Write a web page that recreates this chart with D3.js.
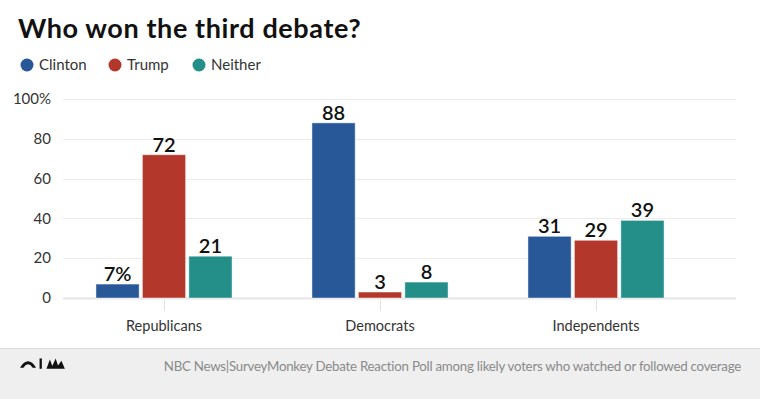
<!DOCTYPE html>
<html>
<head>
<meta charset="utf-8">
<script src="https://cdn.jsdelivr.net/npm/d3@7"></script>
<style>
  body { margin: 0; background: #fff; }
  svg text { font-family: Lato, "Open Sans", sans-serif; }
</style>
</head>
<body>
<div id="chart"></div>
<script>
const groups = ['Republicans', 'Democrats', 'Independents'];
const seriesNames = ['Clinton', 'Trump', 'Neither'];
const clinton = [7, 88, 31];
const trump = [72, 3, 29];
const neither = [21, 8, 39];
const yTicks = [0, 20, 40, 60, 80, 100];
const colors = ['#285898', '#b3372b', '#238f88'];

const width = 760, height = 399;
const svg = d3.select('#chart').append('svg')
  .attr('width', width)
  .attr('height', height);

// title + legend
svg.append('text')
  .attr('x', 18).attr('y', 38)
  .attr('font-size', 27).attr('font-weight', 700)
  .attr('letter-spacing', 0.6)
  .attr('fill', '#111')
  .text('Who won the third debate?');

const legendX = [27, 115, 199];
const legend = svg.selectAll('.legend')
  .data(seriesNames)
  .enter().append('g')
  .attr('transform', (d, i) => 'translate(' + legendX[i] + ',65)');
legend.append('circle').attr('r', 6.5).attr('fill', (d, i) => colors[i]);
legend.append('text')
  .attr('x', 12).attr('dy', '0.35em')
  .attr('font-size', 15).attr('fill', '#333')
  .text(d => d);

// scales
const y = d3.scaleLinear().domain([0, 100]).range([298, 99]);
const x0 = d3.scaleBand().domain(groups).range([56, 704]).paddingInner(0.37).paddingOuter(0.185);
const x1 = d3.scaleBand().domain(seriesNames).range([0, x0.bandwidth()]).paddingInner(0.07);

// grid
svg.append('g').selectAll('line')
  .data(yTicks)
  .enter().append('line')
  .attr('x1', 63).attr('x2', 736)
  .attr('y1', d => Math.round(y(d)) + 0.5).attr('y2', d => Math.round(y(d)) + 0.5)
  .attr('stroke', d => d === 0 ? '#e6e6e6' : '#ececec')
  .attr('stroke-width', d => d === 0 ? 2 : 1);

svg.append('g').selectAll('text')
  .data(yTicks)
  .enter().append('text')
  .attr('x', 51).attr('y', d => y(d)).attr('dy', '0.35em')
  .attr('text-anchor', 'end')
  .attr('font-size', 15).attr('fill', '#333')
  .text(d => d === 100 ? '100%' : d);

// category ticks + labels
const xAxis = svg.append('g').selectAll('g')
  .data(groups)
  .enter().append('g')
  .attr('transform', d => 'translate(' + (x0(d) + x0.bandwidth() / 2) + ',0)');
xAxis.append('line')
  .attr('x1', 0.5).attr('x2', 0.5).attr('y1', 300).attr('y2', 311)
  .attr('stroke', '#e2e2e2');
xAxis.append('text')
  .attr('y', 331).attr('text-anchor', 'middle')
  .attr('font-size', 14.5).attr('fill', '#333')
  .text(d => d);

// bars
const rows = groups.map((g, i) => ({
  group: g,
  values: [clinton[i], trump[i], neither[i]].map((v, j) => ({ name: seriesNames[j], value: v, idx: j }))
}));
const bars = svg.append('g').selectAll('g')
  .data(rows)
  .enter().append('g')
  .attr('transform', d => 'translate(' + x0(d.group) + ',0)');
bars.selectAll('rect')
  .data(d => d.values)
  .enter().append('rect')
  .attr('x', d => x1(d.name))
  .attr('y', d => y(d.value))
  .attr('width', x1.bandwidth())
  .attr('height', d => y(0) - y(d.value))
  .attr('fill', d => colors[d.idx])
  .attr('stroke', 'rgba(255,255,255,0.45)')
  .attr('stroke-width', 1);
bars.selectAll('text')
  .data(d => d.values)
  .enter().append('text')
  .attr('x', d => x1(d.name) + x1.bandwidth() / 2)
  .attr('y', d => y(d.value) - 3)
  .attr('text-anchor', 'middle')
  .attr('font-size', 20).attr('font-weight', 600).attr('fill', '#111')
  .text(d => (d.value === 7 ? d.value + '%' : d.value));

// footer
svg.append('rect')
  .attr('x', 0).attr('y', 348).attr('width', width).attr('height', height - 348)
  .attr('fill', '#efefef');
svg.append('line')
  .attr('x1', 0).attr('x2', width).attr('y1', 348.5).attr('y2', 348.5)
  .attr('stroke', '#dcdcdc');

// small network mark
const logo = svg.append('g').attr('transform', 'translate(20,355) scale(1.15)').attr('fill', '#111');
logo.append('path').attr('d', 'M0,11 Q7,0 14,11 L11,11 Q7,5 3,11 Z');
logo.append('rect').attr('x', 17).attr('y', 3).attr('width', 2).attr('height', 9);
logo.append('path').attr('d', 'M23,12 L26,4 L29,12 Z M27,12 L31,3 L34,12 Z M31,12 L36,5 L39,12 Z');

svg.append('text')
  .attr('x', 741).attr('y', 371)
  .attr('text-anchor', 'end')
  .attr('font-size', 13.3).attr('letter-spacing', -0.25).attr('fill', '#8a8a8a')
  .text('NBC News|SurveyMonkey Debate Reaction Poll among likely voters who watched or followed coverage');
</script>
</body>
</html>
